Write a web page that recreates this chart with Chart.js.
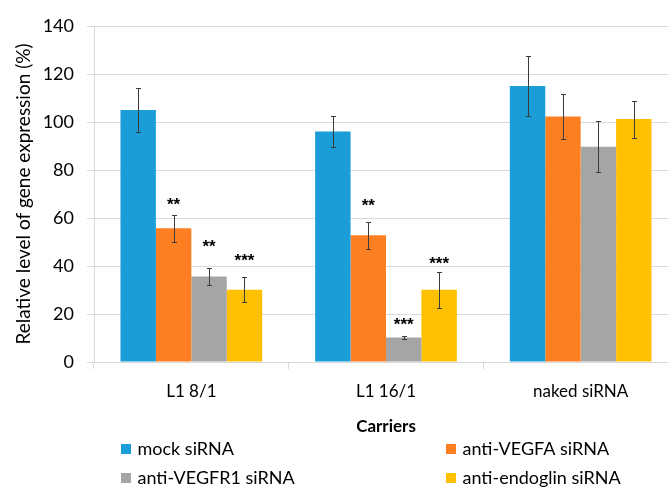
<!DOCTYPE html>
<html>
<head>
<meta charset="utf-8">
<script src="https://cdn.jsdelivr.net/npm/chart.js@4.4.0/dist/chart.umd.min.js"></script>
<style>
  html, body { margin: 0; padding: 0; background: #fff; overflow: hidden; }
  #wrap { width: 680px; height: 488px; }
</style>
</head>
<body>
<div id="wrap"><canvas id="chart" width="680" height="488"></canvas></div>
<script>
const carriers = ['L1 8/1', 'L1 16/1', 'naked siRNA'];
const seriesNames = ['mock siRNA', 'anti-VEGFA siRNA', 'anti-VEGFR1 siRNA', 'anti-endoglin siRNA'];
const seriesColors = ['#1b9dd7', '#fe7f22', '#a5a5a5', '#ffc000'];

// mean expression (%) per carrier
const mockValues = [105, 96, 115];
const vegfaValues = [55.7, 52.8, 102.3];
const vegfr1Values = [35.6, 10.2, 89.7];
const endoglinValues = [30.1, 30.1, 101.2];

// +/- error per carrier
const mockErrors = [9.3, 6.3, 12.6];
const vegfaErrors = [5.7, 5.7, 9.2];
const vegfr1Errors = [3.7, 0.5, 10.7];
const endoglinErrors = [5.3, 7.5, 7.7];

// significance marks and the level (%) they are centred on
const mockStars = ['', '', ''];
const vegfaStars = ['**', '**', ''];
const vegfr1Stars = ['**', '***', ''];
const endoglinStars = ['***', '***', ''];
const mockStarLevels = [null, null, null];
const vegfaStarLevels = [67.5, 66.7, null];
const vegfr1StarLevels = [49.6, 17.3, null];
const endoglinStarLevels = [43.8, 42.8, null];

const yMin = 0, yMax = 140, yStep = 20;

const allValues = [mockValues, vegfaValues, vegfr1Values, endoglinValues];
const allErrors = [mockErrors, vegfaErrors, vegfr1Errors, endoglinErrors];
const allStars = [mockStars, vegfaStars, vegfr1Stars, endoglinStars];
const allStarLevels = [mockStarLevels, vegfaStarLevels, vegfr1StarLevels, endoglinStarLevels];

const FONT = 'Lato';
const GRID = '#d9d9d9';

// error whiskers plus the star marks above them
const errorBars = {
  id: 'errorBars',
  afterDatasetsDraw(chart) {
    const ctx = chart.ctx, y = chart.scales.y;
    ctx.save();
    chart.data.datasets.forEach((ds, i) => {
      const meta = chart.getDatasetMeta(i);
      meta.data.forEach((bar, j) => {
        const v = ds.data[j], e = ds.errors[j];
        const top = Math.round(y.getPixelForValue(v + e)) + 0.5;
        const bot = Math.round(y.getPixelForValue(v - e)) + 0.5;
        const x = Math.round(bar.x) + 0.5;
        ctx.strokeStyle = '#3c3c3c';
        ctx.lineWidth = 1;
        ctx.beginPath();
        ctx.moveTo(x, top); ctx.lineTo(x, bot);
        ctx.moveTo(x - 2.5, top); ctx.lineTo(x + 2.5, top);
        ctx.moveTo(x - 2.5, bot); ctx.lineTo(x + 2.5, bot);
        ctx.stroke();

        const mark = ds.stars[j];
        if (mark) {
          ctx.fillStyle = '#000';
          ctx.font = 'bold 17px "Liberation Sans"';
          ctx.textAlign = 'center';
          ctx.textBaseline = 'alphabetic';
          ctx.fillText(mark, bar.x, y.getPixelForValue(ds.starLevels[j]) + 9.5);
        }
      });
    });
    ctx.restore();
  }
};

// two-column legend under the axis title
const gridLegend = {
  id: 'gridLegend',
  afterDraw(chart) {
    const ctx = chart.ctx;
    const colX = [chart.chartArea.left + 27, chart.chartArea.left + 352];
    const rowY = [chart.height - 39, chart.height - 10];
    ctx.save();
    ctx.font = '18px ' + FONT;
    ctx.textBaseline = 'middle';
    ctx.textAlign = 'left';
    chart.data.datasets.forEach((ds, i) => {
      const x = colX[i % 2], yc = rowY[Math.floor(i / 2)];
      ctx.fillStyle = ds.backgroundColor;
      ctx.fillRect(x, yc - 5, 10, 10);
      ctx.fillStyle = '#000';
      ctx.fillText(ds.label, x + 16.5, yc);
    });
    ctx.restore();
  }
};

new Chart(document.getElementById('chart'), {
  type: 'bar',
  data: {
    labels: carriers,
    datasets: seriesNames.map((name, i) => ({
      label: name,
      data: allValues[i],
      errors: allErrors[i],
      stars: allStars[i],
      starLevels: allStarLevels[i],
      backgroundColor: seriesColors[i],
      borderWidth: 0,
      categoryPercentage: 0.728,
      barPercentage: 1
    }))
  },
  options: {
    responsive: false,
    animation: false,
    layout: { padding: { top: 26, right: 2, bottom: 51, left: 0 } },
    plugins: { legend: { display: false }, tooltip: { enabled: false } },
    scales: {
      x: {
        afterFit(scale) { scale.height = 75; },
        grid: { display: true, drawOnChartArea: false, drawTicks: true, tickLength: 7, color: GRID },
        border: { color: GRID },
        ticks: { color: '#000', font: { family: FONT, size: 17 }, padding: 12 },
        title: { display: true, text: 'Carriers', color: '#000',
                 font: { family: FONT, size: 17, weight: 'bold', lineHeight: 1.2 },
                 padding: { top: 0, bottom: 0 } }
      },
      y: {
        min: yMin, max: yMax,
        afterFit(scale) { scale.width = 94; },
        grid: { color: GRID, tickLength: 7, tickColor: GRID },
        border: { color: GRID },
        ticks: { stepSize: yStep, color: '#000', font: { family: FONT, size: 18 }, padding: 13 },
        title: { display: true, text: 'Relative level of gene expression (%)', color: '#000',
                 font: { family: FONT, size: 19, lineHeight: 1.2 },
                 padding: { top: 12, bottom: 0 } }
      }
    }
  },
  plugins: [errorBars, gridLegend]
});
</script>
</body>
</html>
